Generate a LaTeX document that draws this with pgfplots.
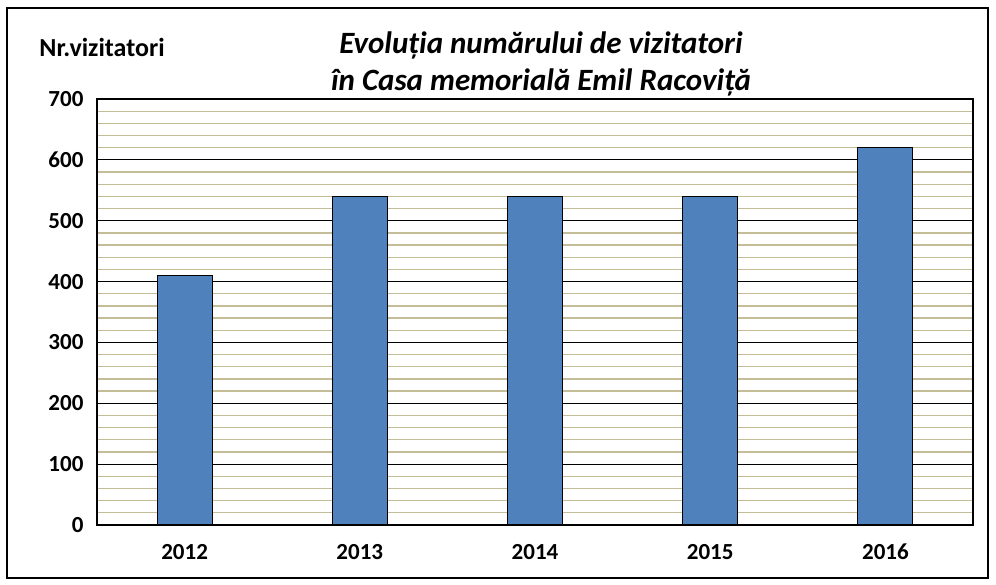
\documentclass[border=0pt]{standalone}
\usepackage{pgfplots}
\pgfplotsset{compat=1.18}
\usepackage{fontspec}
\setmainfont{Carlito}
\definecolor{barblue}{RGB}{79,129,189}
\definecolor{gridtan}{RGB}{196,189,151}

\begin{document}
\begin{tikzpicture}
    \path[use as bounding box] (-97pt,-60pt) rectangle (899pt,525pt);
    \draw[black, line width=1.3pt] (-90pt,-53pt) rectangle (891pt,517pt);
    \begin{axis}[
        at={(0pt,0pt)}, anchor=south west,
        scale only axis,
        width=876pt, height=426pt,
        ybar, bar width=55pt,
        xmin=-0.5, xmax=4.5,
        ymin=0, ymax=700,
        xtick={0,1,2,3,4},
        xticklabels={2012,2013,2014,2015,2016},
        ytick={0,100,...,700},
        minor y tick num=4,
        ymajorgrids, yminorgrids,
        major grid style={black, line width=1pt},
        minor grid style={gridtan, line width=1.3pt},
        axis line style={black, line width=1.3pt},
        tick style={draw=none},
        tick label style={font=\fontsize{23}{25}\selectfont\bfseries},
        /pgf/number format/assume math mode=true,
        yticklabel style={xshift=-10pt},
        xticklabel style={yshift=-15pt, text height=12pt, text depth=0pt},
    ]
    \addplot[fill=barblue, draw=black, line width=1pt] coordinates {(0,410) (1,540) (2,540) (3,540) (4,620)};
    \end{axis}
    \node[font=\fontsize{26}{28}\selectfont\bfseries] at (5pt,478pt) {Nr.vizitatori};
    \node[align=center, font=\fontsize{31}{37}\selectfont\bfseries\itshape] at (444pt,461pt) {Evoluția numărului de vizitatori\\ în Casa memorială Emil Racoviță};
\end{tikzpicture}
\end{document}
